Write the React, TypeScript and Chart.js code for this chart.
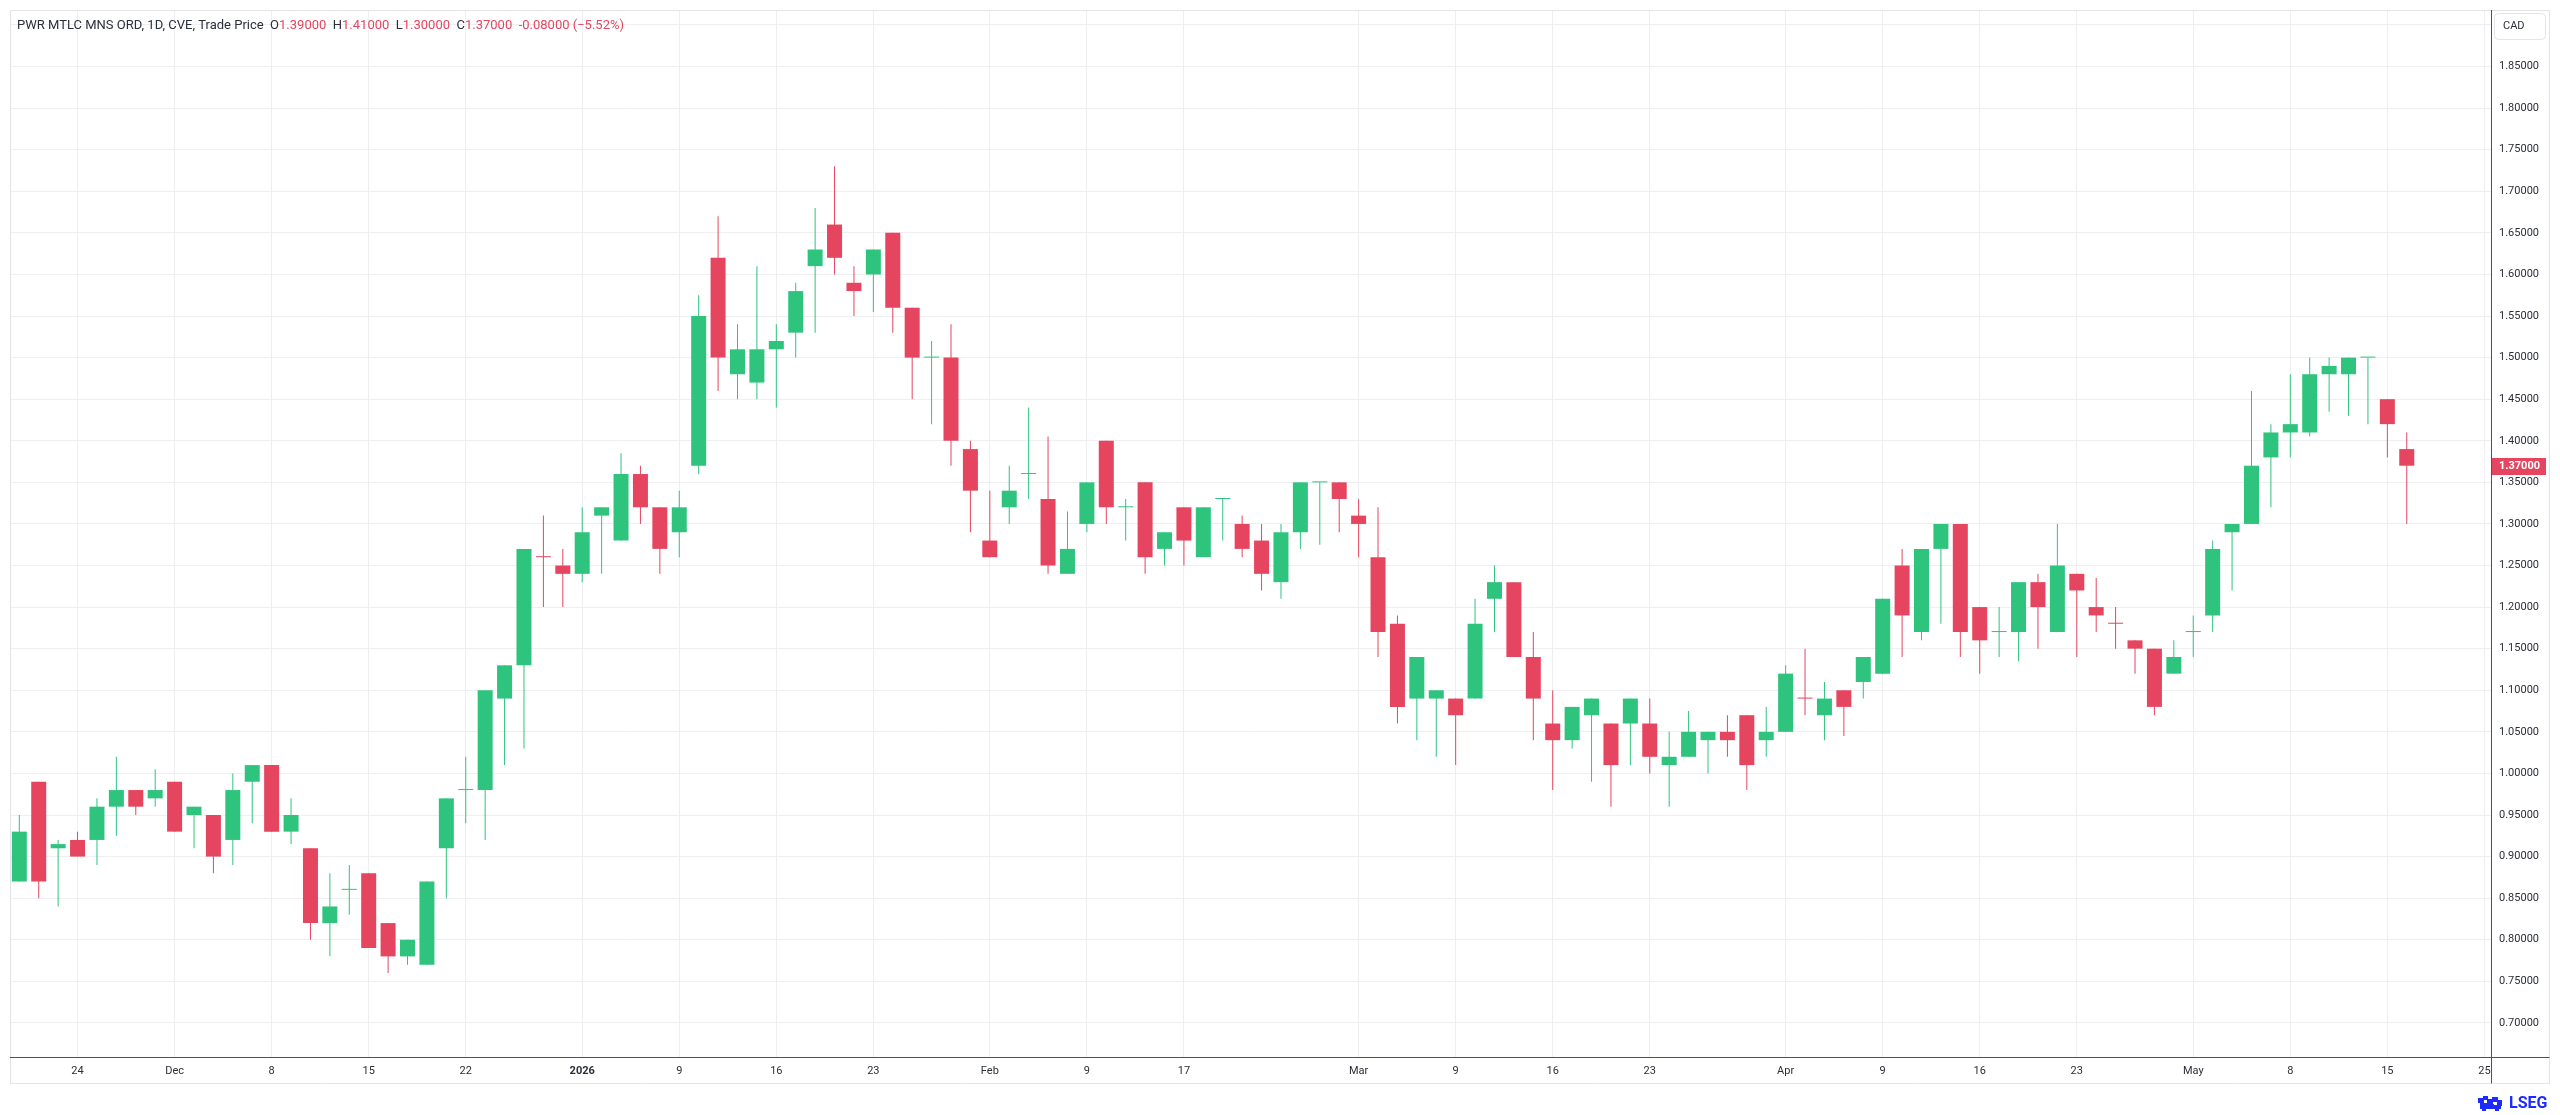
import React, { useEffect, useRef } from 'react';
import { Chart, registerables } from 'chart.js';

Chart.register(...registerables);

// ---------- data ----------
const dates: string[] = [
  '2025-11-19','2025-11-20','2025-11-21','2025-11-24','2025-11-25','2025-11-26','2025-11-27','2025-11-28',
  '2025-12-01','2025-12-02','2025-12-03','2025-12-04','2025-12-05','2025-12-08','2025-12-09','2025-12-10','2025-12-11','2025-12-12',
  '2025-12-15','2025-12-16','2025-12-17','2025-12-18','2025-12-19','2025-12-22','2025-12-23','2025-12-24','2025-12-29','2025-12-30','2025-12-31',
  '2026-01-02','2026-01-05','2026-01-06','2026-01-07','2026-01-08','2026-01-09','2026-01-12','2026-01-13','2026-01-14','2026-01-15','2026-01-16',
  '2026-01-19','2026-01-20','2026-01-21','2026-01-22','2026-01-23','2026-01-26','2026-01-27','2026-01-28','2026-01-29','2026-01-30',
  '2026-02-02','2026-02-03','2026-02-04','2026-02-05','2026-02-06','2026-02-09','2026-02-10','2026-02-11','2026-02-12','2026-02-13',
  '2026-02-17','2026-02-18','2026-02-19','2026-02-20','2026-02-23','2026-02-24','2026-02-25','2026-02-26','2026-02-27',
  '2026-03-02','2026-03-03','2026-03-04','2026-03-05','2026-03-06','2026-03-09','2026-03-10','2026-03-11','2026-03-12','2026-03-13',
  '2026-03-16','2026-03-17','2026-03-18','2026-03-19','2026-03-20','2026-03-23','2026-03-24','2026-03-25','2026-03-26','2026-03-27','2026-03-30','2026-03-31',
  '2026-04-01','2026-04-02','2026-04-06','2026-04-07','2026-04-08','2026-04-09','2026-04-10','2026-04-13','2026-04-14','2026-04-15','2026-04-16','2026-04-17',
  '2026-04-20','2026-04-21','2026-04-22','2026-04-23','2026-04-24','2026-04-27','2026-04-28','2026-04-29','2026-04-30',
  '2026-05-01','2026-05-04','2026-05-05','2026-05-06','2026-05-07','2026-05-08','2026-05-11','2026-05-12','2026-05-13','2026-05-14','2026-05-15','2026-05-19',
  // future (empty) sessions on the time axis
  '2026-05-20','2026-05-21','2026-05-22','2026-05-25',
];

const open: number[] = [
  0.87,0.99,0.91,0.92,0.92,0.96,0.98,0.97,
  0.99,0.95,0.95,0.92,0.99,1.01,0.93,0.91,0.82,0.86,0.88,0.82,0.78,0.77,0.91,0.98,0.98,1.09,1.13,1.26,1.25,
  1.24,1.31,1.28,1.36,1.32,1.29,1.37,1.62,1.48,1.47,1.51,1.53,1.61,1.66,1.59,1.60,1.65,1.56,1.50,1.50,1.39,
  1.28,1.32,1.36,1.33,1.24,1.30,1.40,1.32,1.35,1.27,1.32,1.26,1.33,1.30,1.28,1.23,1.29,1.35,1.35,
  1.31,1.26,1.18,1.09,1.09,1.09,1.09,1.21,1.23,1.14,1.06,1.04,1.07,1.06,1.06,1.06,1.01,1.02,1.04,1.05,1.07,1.04,
  1.05,1.09,1.07,1.10,1.11,1.12,1.25,1.17,1.27,1.30,1.20,1.17,1.17,1.23,1.17,1.24,1.20,1.18,1.16,1.15,1.12,
  1.17,1.19,1.29,1.30,1.38,1.41,1.41,1.48,1.48,1.50,1.45,1.39,
];
const high: number[] = [
  0.95,0.99,0.92,0.93,0.97,1.02,0.98,1.005,
  0.99,0.96,0.95,1.00,1.01,1.01,0.97,0.91,0.88,0.89,0.88,0.82,0.80,0.87,0.97,1.02,1.10,1.13,1.27,1.31,1.27,
  1.32,1.32,1.385,1.37,1.32,1.34,1.575,1.67,1.54,1.61,1.54,1.59,1.68,1.73,1.61,1.63,1.65,1.56,1.52,1.54,1.40,
  1.34,1.37,1.44,1.405,1.315,1.35,1.40,1.33,1.35,1.29,1.32,1.32,1.33,1.31,1.30,1.30,1.35,1.35,1.35,
  1.33,1.32,1.19,1.14,1.10,1.09,1.21,1.25,1.23,1.17,1.10,1.08,1.09,1.06,1.09,1.09,1.05,1.075,1.05,1.07,1.07,1.08,
  1.13,1.15,1.11,1.10,1.14,1.21,1.27,1.27,1.30,1.30,1.20,1.20,1.23,1.24,1.30,1.24,1.235,1.20,1.16,1.15,1.16,
  1.19,1.28,1.30,1.46,1.42,1.48,1.50,1.50,1.50,1.50,1.45,1.41,
];
const low: number[] = [
  0.87,0.85,0.84,0.90,0.89,0.925,0.95,0.96,
  0.93,0.91,0.88,0.89,0.94,0.93,0.915,0.80,0.78,0.83,0.79,0.76,0.77,0.77,0.85,0.94,0.92,1.01,1.03,1.20,1.20,
  1.23,1.24,1.28,1.30,1.24,1.26,1.36,1.46,1.45,1.45,1.44,1.50,1.53,1.60,1.55,1.555,1.53,1.45,1.42,1.37,1.29,
  1.26,1.30,1.33,1.24,1.24,1.29,1.30,1.28,1.24,1.25,1.25,1.26,1.28,1.26,1.22,1.21,1.27,1.275,1.29,
  1.26,1.14,1.06,1.04,1.02,1.01,1.09,1.17,1.14,1.04,0.98,1.03,0.99,0.96,1.01,1.00,0.96,1.02,1.00,1.02,0.98,1.02,
  1.05,1.07,1.04,1.045,1.09,1.12,1.14,1.16,1.18,1.14,1.12,1.14,1.135,1.15,1.17,1.14,1.17,1.15,1.12,1.07,1.12,
  1.14,1.17,1.22,1.30,1.32,1.38,1.405,1.435,1.43,1.42,1.38,1.30,
];
const close: number[] = [
  0.93,0.87,0.915,0.90,0.96,0.98,0.96,0.98,
  0.93,0.96,0.90,0.98,1.01,0.93,0.95,0.82,0.84,0.86,0.79,0.78,0.80,0.87,0.97,0.98,1.10,1.13,1.27,1.26,1.24,
  1.29,1.32,1.36,1.32,1.27,1.32,1.55,1.50,1.51,1.51,1.52,1.58,1.63,1.62,1.58,1.63,1.56,1.50,1.50,1.40,1.34,
  1.26,1.34,1.36,1.25,1.27,1.35,1.32,1.32,1.26,1.29,1.28,1.32,1.33,1.27,1.24,1.29,1.35,1.35,1.33,
  1.30,1.17,1.08,1.14,1.10,1.07,1.18,1.23,1.14,1.09,1.04,1.08,1.09,1.01,1.09,1.02,1.02,1.05,1.05,1.04,1.01,1.05,
  1.12,1.09,1.09,1.08,1.14,1.21,1.19,1.27,1.30,1.17,1.16,1.17,1.23,1.20,1.25,1.22,1.19,1.18,1.15,1.08,1.14,
  1.17,1.27,1.30,1.37,1.41,1.42,1.48,1.49,1.50,1.50,1.42,1.37,
];

const xTickDates: string[] = [
  '2025-11-24','2025-12-01','2025-12-08','2025-12-15','2025-12-22','2026-01-02','2026-01-09','2026-01-16','2026-01-23',
  '2026-02-02','2026-02-09','2026-02-17','2026-03-02','2026-03-09','2026-03-16','2026-03-23','2026-04-01','2026-04-09',
  '2026-04-16','2026-04-23','2026-05-01','2026-05-08','2026-05-15','2026-05-25',
];
const xTickTexts: string[] = [
  '24','Dec','8','15','22','2026','9','16','23','Feb','9','17','Mar','9','16','23','Apr','9','16','23','May','8','15','25',
];
const yTickValues: number[] = [
  0.70,0.75,0.80,0.85,0.90,0.95,1.00,1.05,1.10,1.15,1.20,1.25,1.30,1.35,1.40,1.45,1.50,1.55,1.60,1.65,1.70,1.75,1.80,1.85,1.90,
];

const titleMain = 'PWR MTLC MNS ORD, 1D, CVE, Trade Price';
const titleChange = '-0.08000 (\u22125.52%)';
const currency = 'CAD';

// ---------- styles ----------
const UP = '#2ec47e';
const DOWN = '#e5455f';
const GRID = '#efeff1';
const AXIS = '#4f525b';
const FRAME = '#e3e4e8';
const TEXT = '#2b2f38';
const FONT = 'Roboto, "Noto Sans", sans-serif';
const W = 2544;
const H = 1107;

const n = close.length;
const idx = Array.from({ length: n }, (_, i) => i);
const candleColor = (i: number) =>
  close[i] > open[i] ? UP : close[i] < open[i] ? DOWN : i > 0 && close[i] < close[i - 1] ? DOWN : UP;
const colors = idx.map(candleColor);
const xTickIdx = xTickDates.map((d) => dates.indexOf(d));

const overlayPlugin = {
  id: 'overlay',
  afterDraw(chart: any) {
    const ctx: CanvasRenderingContext2D = chart.ctx;
    const ca = chart.chartArea;
    const y = chart.scales.y;
    ctx.save();
    // frame
    ctx.lineWidth = 1;
    ctx.strokeStyle = FRAME;
    const frameR = W - 2.5;
    const frameB = 1075.5;
    ctx.beginPath();
    ctx.moveTo(ca.left + 0.5, frameB);
    ctx.lineTo(ca.left + 0.5, ca.top + 0.5);
    ctx.lineTo(frameR, ca.top + 0.5);
    ctx.lineTo(frameR, frameB);
    ctx.lineTo(ca.left + 0.5, frameB);
    ctx.stroke();
    // axis lines extension
    ctx.strokeStyle = AXIS;
    ctx.beginPath();
    ctx.moveTo(Math.round(ca.right) + 0.5, ca.top);
    ctx.lineTo(Math.round(ca.right) + 0.5, frameB);
    ctx.moveTo(ca.left, Math.round(ca.bottom) + 0.5);
    ctx.lineTo(frameR, Math.round(ca.bottom) + 0.5);
    ctx.stroke();

    // title
    ctx.textBaseline = 'middle';
    ctx.textAlign = 'left';
    ctx.font = `13px ${FONT}`;
    const last = n - 1;
    const segs: [string, string][] = [
      [titleMain + '  ', TEXT],
      ['O', TEXT], [open[last].toFixed(5) + '  ', DOWN],
      ['H', TEXT], [high[last].toFixed(5) + '  ', DOWN],
      ['L', TEXT], [low[last].toFixed(5) + '  ', DOWN],
      ['C', TEXT], [close[last].toFixed(5) + '  ', DOWN],
      [titleChange, DOWN],
    ];
    let tx = 9;
    for (const [s, c] of segs) {
      ctx.fillStyle = c;
      ctx.fillText(s, tx, 18);
      tx += ctx.measureText(s).width;
    }

    // currency box
    ctx.fillStyle = '#ffffff';
    ctx.strokeStyle = FRAME;
    ctx.beginPath();
    (ctx as any).roundRect(2486.5, 5.5, 51, 26, 4);
    ctx.fill();
    ctx.stroke();
    ctx.fillStyle = TEXT;
    ctx.font = `11px ${FONT}`;
    ctx.fillText(currency, 2495, 18.5);

    // last price label
    const py = y.getPixelForValue(close[last]);
    ctx.fillStyle = colors[last];
    ctx.fillRect(Math.round(ca.right) + 1, Math.round(py) - 8, 54, 17);
    ctx.fillStyle = '#ffffff';
    ctx.font = `bold 11px ${FONT}`;
    ctx.fillText(close[last].toFixed(5), Math.round(ca.right) + 8, Math.round(py) + 0.5);

    // LSEG mark
    ctx.fillStyle = '#1d2bff';
    const ix = 2470, iy = 1088;
    const blocks: [number, number, number, number][] = [
      [0, 2, 6, 5], [5, 0, 5, 4], [9, 3, 6, 6], [14, 1, 6, 5], [19, 4, 5, 6], [2, 7, 7, 6], [8, 8, 8, 5], [16, 9, 7, 4], [4, 12, 4, 3], [17, 12, 4, 3],
    ];
    for (const [bx, by, bw, bh] of blocks) ctx.fillRect(ix + bx, iy + by, bw, bh);
    ctx.font = `bold 16px ${FONT}`;
    ctx.fillText('LSEG', 2501, 1096);
    ctx.restore();
  },
};

export default function App() {
  const ref = useRef<HTMLCanvasElement>(null);
  useEffect(() => {
    document.documentElement.style.overflow = 'hidden';
    document.body.style.overflow = 'hidden';
    const canvas = ref.current;
    if (!canvas) return;
    const bodies = idx.map((i) => ({ x: i, y: [Math.min(open[i], close[i]), Math.max(open[i], close[i])] }));
    const wicks = idx.map((i) => ({ x: i, y: [low[i], high[i]] }));
    const chart = new Chart(canvas, {
      type: 'bar',
      data: {
        labels: dates,
        datasets: [
          {
            label: 'body',
            data: bodies as any,
            backgroundColor: colors,
            barThickness: 15,
            minBarLength: 1,
            grouped: false,
            borderWidth: 0,
            inflateAmount: 0,
          } as any,
          {
            label: 'wick',
            data: wicks as any,
            backgroundColor: colors,
            barThickness: 1,
            grouped: false,
            borderWidth: 0,
            inflateAmount: 0,
          } as any,
        ],
      },
      options: {
        responsive: false,
        maintainAspectRatio: false,
        animation: false,
        events: [],
        layout: { padding: { left: 2, top: 2, right: 0, bottom: 0 } },
        plugins: { legend: { display: false }, tooltip: { enabled: false } },
        scales: {
          x: {
            type: 'linear',
            bounds: 'data',
            offset: false,
            min: -0.48,
            max: 127.34,
            afterFit: (s: any) => { s.height = 58; s.paddingLeft = 0; s.paddingRight = 0; },
            afterBuildTicks: (s: any) => { s.ticks = xTickIdx.map((v) => ({ value: v })); },
            grid: { color: GRID, drawTicks: false, lineWidth: 1, offset: false },
            border: { display: true, color: AXIS },
            ticks: {
              autoSkip: false,
              maxRotation: 0,
              minRotation: 0,
              padding: 8,
              color: TEXT,
              font: (c: any) => ({
                family: FONT,
                size: 11,
                weight: c.tick && /^\d{4}$/.test(xTickTexts[xTickIdx.indexOf(c.tick.value)] || '') ? 'bold' : 'normal',
              }),
              callback: (v: any) => {
                const k = xTickIdx.indexOf(Number(v));
                return k >= 0 ? xTickTexts[k] : '';
              },
            },
          } as any,
          y: {
            type: 'linear',
            position: 'right',
            bounds: 'data',
            min: 0.659,
            max: 1.918,
            afterFit: (s: any) => { s.width = 61; s.paddingTop = 0; s.paddingBottom = 0; },
            afterBuildTicks: (s: any) => { s.ticks = yTickValues.map((v) => ({ value: v })); },
            grid: { color: GRID, drawTicks: false, lineWidth: 1 },
            border: { display: true, color: AXIS },
            ticks: {
              padding: 8,
              color: TEXT,
              font: { family: FONT, size: 11 },
              callback: (v: any) => (Number(v) > 1.875 ? '' : Number(v).toFixed(5)),
            },
          } as any,
        },
      },
      plugins: [overlayPlugin as any],
    });
    return () => chart.destroy();
  }, []);
  return <canvas ref={ref} width={W} height={H} style={{ display: 'block', width: W, height: H }} />;
}
